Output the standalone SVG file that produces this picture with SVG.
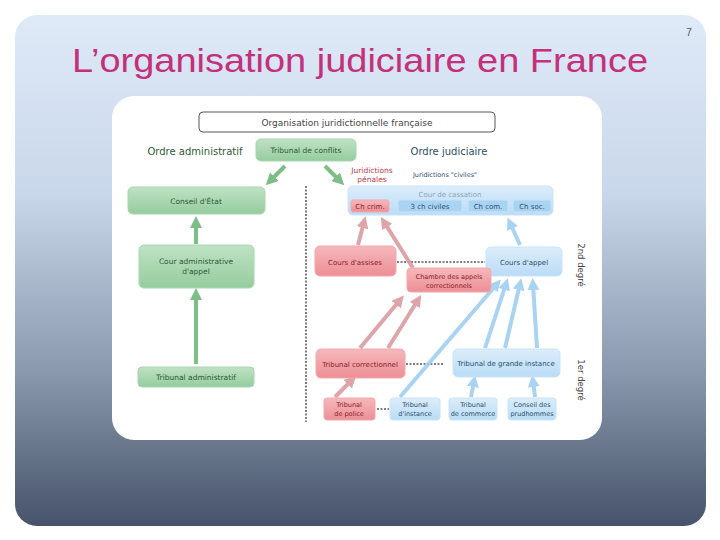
<svg xmlns="http://www.w3.org/2000/svg" width="720" height="540" viewBox="0 0 720 540">
<defs>
<linearGradient id="bg" x1="0" y1="0" x2="0" y2="1">
<stop offset="0" stop-color="#dfeaf8"/><stop offset="0.35" stop-color="#c9d7ea"/><stop offset="0.7" stop-color="#8a98ad"/><stop offset="1" stop-color="#46536a"/></linearGradient>
<linearGradient id="gG" x1="0" y1="0" x2="0" y2="1"><stop offset="0" stop-color="#bfe2c4"/><stop offset="1" stop-color="#95cc9e"/></linearGradient>
<linearGradient id="gR" x1="0" y1="0" x2="0" y2="1"><stop offset="0" stop-color="#f6b8bb"/><stop offset="1" stop-color="#ec8f95"/></linearGradient>
<linearGradient id="gB" x1="0" y1="0" x2="0" y2="1"><stop offset="0" stop-color="#dcedfb"/><stop offset="1" stop-color="#b9dcf6"/></linearGradient>
<marker id="mG" viewBox="0 0 10 10" refX="5" refY="5" markerWidth="3" markerHeight="3" orient="auto"><path d="M0,0L10,5L0,10z" fill="#7dbd88"/></marker>
<marker id="mR" viewBox="0 0 10 10" refX="5" refY="5" markerWidth="3" markerHeight="3" orient="auto"><path d="M0,0L10,5L0,10z" fill="#d9969a"/></marker>
<marker id="mB" viewBox="0 0 10 10" refX="5" refY="5" markerWidth="3" markerHeight="3" orient="auto"><path d="M0,0L10,5L0,10z" fill="#9fcff2"/></marker>
<style>
text{font-family:"DejaVu Sans","Liberation Sans",sans-serif;text-anchor:middle}
.g rect{fill:url(#gG);stroke:#a8d6b0}
.r rect{fill:url(#gR);stroke:#f2a9ad}
.b rect{fill:url(#gB);stroke:#c9e4f8}
.g text{fill:#2f5a35;font-size:7.5px}
.r text{fill:#8a2028;font-size:7px}
.b text{fill:#2c4f6c;font-size:7px}
.ag{stroke:#7dbd88;stroke-width:4;fill:none;marker-end:url(#mG)}
.ar{stroke:#d9969a;stroke-width:4;fill:none;marker-end:url(#mR);opacity:.85}
.ab{stroke:#9fcff2;stroke-width:4;fill:none;marker-end:url(#mB);opacity:.9}
.dot{stroke:#555;stroke-width:1.5;stroke-dasharray:2 1.5}
</style>
</defs>
<rect width="720" height="540" fill="#fff"/>
<rect x="15" y="15" width="691" height="511" rx="22" fill="url(#bg)"/>
<text x="72" y="72" textLength="576" lengthAdjust="spacingAndGlyphs" style="font-family:'Liberation Sans',sans-serif;font-size:34px;fill:#c4307a;text-anchor:start">L’organisation judiciaire en France</text>
<text x="689" y="36" style="font-family:'Liberation Sans',sans-serif;font-size:10px;fill:#555">7</text>
<rect x="112" y="96" width="490" height="344" rx="22" fill="#fff"/>
<g id="title"><rect x="199" y="112" width="296" height="20" rx="4" fill="#fff" stroke="#555"/><text x="347" y="126" style="font-size:9px;fill:#444">Organisation juridictionnelle française</text></g>
<text x="195" y="155" style="font-size:10px;fill:#2f5a35">Ordre administratif</text>
<text x="449" y="155" style="font-size:10px;fill:#2c4f6c">Ordre judiciaire</text>
<text x="372" y="173" style="font-size:7.5px;fill:#c23a44">Juridictions</text>
<text x="372" y="182" style="font-size:7.5px;fill:#c23a44">pénales</text>
<text x="445" y="177" style="font-size:6.5px;fill:#2c4f6c">Juridictions "civiles"</text>
<text x="578" y="265" transform="rotate(90 578 265)" style="font-size:8.5px;fill:#444">2nd degré</text>
<text x="578" y="380" transform="rotate(90 578 380)" style="font-size:8.5px;fill:#444">1er degré</text>
<g id="connectors">
<line x1="306" y1="186" x2="306" y2="422" class="dot"/>
<line x1="397" y1="262" x2="485" y2="262" class="dot"/>
<line x1="406" y1="364" x2="443" y2="364" class="dot"/>
<line x1="377" y1="409" x2="389" y2="409" class="dot"/>
<line x1="285" y1="166" x2="270" y2="181" class="ag"/>
<line x1="325" y1="166" x2="340" y2="181" class="ag"/>
<line x1="196" y1="244" x2="196" y2="222" class="ag"/>
<line x1="196" y1="364" x2="196" y2="294" class="ag"/>
<line x1="358" y1="245" x2="364" y2="222" class="ar"/>
<line x1="413" y1="268" x2="384" y2="222" class="ar"/>
<line x1="360" y1="348" x2="400" y2="300" class="ar"/>
<line x1="388" y1="348" x2="418" y2="300" class="ar"/>
<line x1="335" y1="397" x2="352" y2="380" class="ar"/>
<line x1="520" y1="245" x2="510" y2="223" class="ab"/>
<line x1="400" y1="397" x2="497" y2="284" class="ab"/>
<line x1="485" y1="348" x2="506" y2="284" class="ab"/>
<line x1="505" y1="348" x2="520" y2="284" class="ab"/>
<line x1="537" y1="348" x2="533" y2="284" class="ab"/>
<line x1="471" y1="397" x2="474" y2="381" class="ab"/>
<line x1="535" y1="397" x2="533" y2="381" class="ab"/>
</g>
<g id="tc" class="g"><rect x="256" y="139" width="100" height="22" rx="5"/><text x="306" y="153">Tribunal de conflits</text></g>
<g id="ce" class="g"><rect x="128" y="187" width="137" height="27" rx="5"/><text x="196" y="204">Conseil d'État</text></g>
<g id="caa" class="g"><rect x="139" y="245" width="115" height="43" rx="5"/><text x="196" y="264">Cour administrative</text><text x="196" y="274">d'appel</text></g>
<g id="ta" class="g"><rect x="138" y="367" width="116" height="20" rx="4"/><text x="196" y="380">Tribunal administratif</text></g>
<g id="cass" class="b"><rect x="348" y="186" width="205" height="29" rx="5"/><text x="450" y="197" style="fill:#8aa4b8">Cour de cassation</text></g>
<g id="chcrim" class="r"><rect x="351" y="200" width="38" height="12" rx="2"/><text x="370" y="209">Ch crim.</text></g>
<g id="civ" class="b"><rect x="398" y="200" width="64" height="12" rx="2" style="fill:#a9d3f3"/><text x="430" y="209">3 ch civiles</text></g>
<g id="com" class="b"><rect x="468" y="200" width="40" height="12" rx="2" style="fill:#a9d3f3"/><text x="488" y="209">Ch com.</text></g>
<g id="soc" class="b"><rect x="513" y="200" width="38" height="12" rx="2" style="fill:#a9d3f3"/><text x="532" y="209">Ch soc.</text></g>
<g id="assises" class="r"><rect x="315" y="246" width="81" height="30" rx="5"/><text x="355" y="265">Cours d'assises</text></g>
<g id="appel" class="b"><rect x="486" y="247" width="76" height="29" rx="5"/><text x="524" y="265">Cours d'appel</text></g>
<g id="chac" class="r"><rect x="407" y="268" width="84" height="24" rx="4"/><text x="449" y="279" style="font-size:6.5px">Chambre des appels</text><text x="449" y="288" style="font-size:6.5px">correctionnels</text></g>
<g id="tcor" class="r"><rect x="316" y="349" width="89" height="29" rx="5"/><text x="360" y="367">Tribunal correctionnel</text></g>
<g id="tgi" class="b"><rect x="453" y="349" width="107" height="28" rx="5"/><text x="506" y="366">Tribunal de grande instance</text></g>
<g id="tpol" class="r"><rect x="324" y="398" width="51" height="22" rx="3"/><text x="349" y="407" style="font-size:6.5px">Tribunal</text><text x="349" y="416" style="font-size:6.5px">de police</text></g>
<g id="ti" class="b"><rect x="390" y="398" width="50" height="22" rx="3"/><text x="415" y="407" style="font-size:6.5px">Tribunal</text><text x="415" y="416" style="font-size:6.5px">d'instance</text></g>
<g id="tcom" class="b"><rect x="449" y="398" width="48" height="22" rx="3"/><text x="473" y="407" style="font-size:6.5px">Tribunal</text><text x="473" y="416" style="font-size:6.5px">de commerce</text></g>
<g id="cph" class="b"><rect x="508" y="398" width="48" height="22" rx="3"/><text x="532" y="407" style="font-size:6.5px">Conseil des</text><text x="532" y="416" style="font-size:6.5px">prudhommes</text></g>
</svg>
